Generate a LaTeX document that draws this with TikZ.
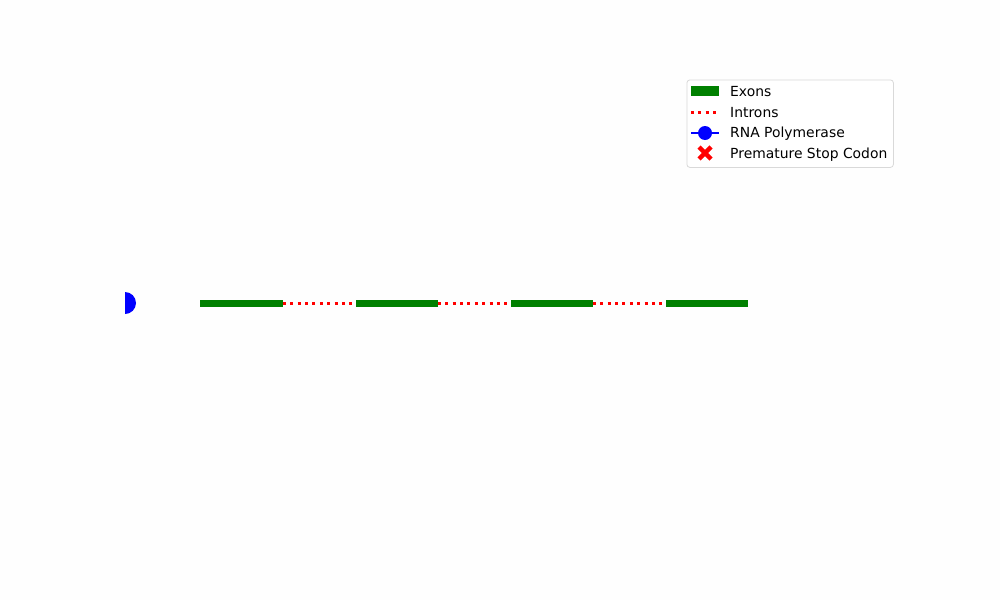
\documentclass[tikz,border=0pt]{standalone}
\usepackage{fontspec}
\setmainfont{DejaVu Sans}
\begin{document}
\begin{tikzpicture}[x=1pt,y=-1pt,
  exon/.style={draw=exongreen, line width=7pt},
  intron/.style={draw=red, line width=3pt, dash pattern=on 3pt off 4.36pt},
  lbl/.style={anchor=base west, inner sep=0pt, font=\fontsize{13.9}{16}\selectfont},
]
\definecolor{exongreen}{RGB}{0,128,0}
\definecolor{bgc}{RGB}{254,254,254}
\fill[bgc] (0,0) rectangle (1000,600);
\useasboundingbox (0,0) rectangle (1000,600);
% gene coordinates
\coordinate (e1a) at (200,303); \coordinate (e1b) at (283,303);
\coordinate (e2a) at (356,303); \coordinate (e2b) at (438,303);
\coordinate (e3a) at (511,303); \coordinate (e3b) at (593,303);
\coordinate (e4a) at (666,303); \coordinate (e4b) at (748,303);
\draw[exon] (e1a) -- (e1b);
\draw[exon] (e2a) -- (e2b);
\draw[exon] (e3a) -- (e3b);
\draw[exon] (e4a) -- (e4b);
\draw[intron] (e1b) -- (e2a);
\draw[intron] (e2b) -- (e3a);
\draw[intron] (e3b) -- (e4a);
% RNA polymerase clipped at axis edge
\begin{scope}
\clip (125,280) rectangle (160,330);
\node[circle, fill=blue, minimum size=22pt, inner sep=0pt] (pol) at (125,303) {};
\end{scope}
% legend
\node[draw=black!15, rounded corners=3pt, fill=white, line width=0.8pt, minimum width=206.5pt, minimum height=87.5pt, anchor=north west, inner sep=0pt] (leg) at (686.5,79.5) {};
\node[fill=exongreen, minimum width=28pt, minimum height=10pt, inner sep=0pt] (k1) at (705,91) {};
\coordinate (k2a) at (691,112); \coordinate (k2b) at (719,112);
\draw[intron] (k2a) -- (k2b);
\coordinate (k3a) at (691,133); \coordinate (k3b) at (719,133);
\draw[blue, line width=2pt] (k3a) -- (k3b);
\node[circle, fill=blue, minimum size=14pt, inner sep=0pt] (k3) at (705,133) {};
\node[inner sep=0pt, minimum size=14pt] (k4) at (705,153) {};
\draw[red, line width=4.5pt] (699,147) -- (711,159);
\draw[red, line width=4.5pt] (699,159) -- (711,147);
\node[lbl] (t1) at (730,96) {Exons};
\node[lbl] (t2) at (730,117) {Introns};
\node[lbl] (t3) at (730,137.5) {RNA Polymerase};
\node[lbl] (t4) at (730,158.5) {Premature Stop Codon};
\end{tikzpicture}
\end{document}
